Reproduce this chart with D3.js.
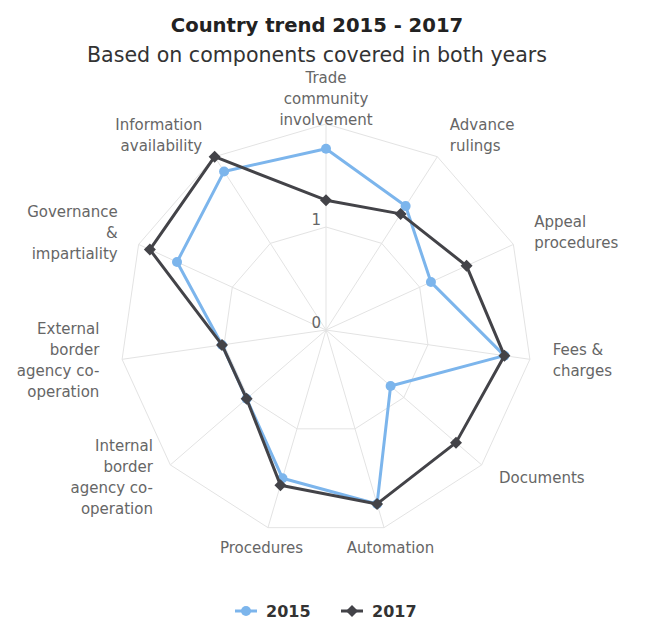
<!DOCTYPE html>
<html>
<head>
<meta charset="utf-8">
<script src="https://cdn.jsdelivr.net/npm/d3@7"></script>
<style>
  html, body { margin: 0; padding: 0; background: #ffffff; }
  svg { display: block; }
  text { font-family: "DejaVu Sans", "Open Sans", sans-serif; }
</style>
</head>
<body>
<svg id="chart" width="648" height="633"></svg>
<script>
// ---- data ----
const chartTitle = "Country trend 2015 - 2017";
const chartSubtitle = "Based on components covered in both years";
const categories = [
  "Trade|community|involvement",
  "Advance|rulings",
  "Appeal|procedures",
  "Fees &|charges",
  "Documents",
  "Automation",
  "Procedures",
  "Internal|border|agency co-|operation",
  "External|border|agency co-|operation",
  "Governance|&|impartiality",
  "Information|availability"
];
const seriesNames = ["2015", "2017"];
const values2015 = [1.76, 1.43, 1.12, 1.75, 0.83, 1.76, 1.50, 1.02, 1.02, 1.59, 1.83];
const values2017 = [1.26, 1.34, 1.50, 1.75, 1.67, 1.76, 1.57, 1.02, 1.02, 1.88, 2.00];
const radialTicks = [0, 1, 2];
const radialTickLabels = ["0", "1"];

// ---- layout ----
const W = 648, H = 633;
const cx = 326, cy = 330, R = 206;
const svg = d3.select("#chart");

const rScale = d3.scaleLinear().domain([0, 2]).range([0, R]);
const aScale = d3.scaleLinear().domain([0, categories.length]).range([0, 2 * Math.PI]);
const pt = (i, v) => {
  const a = aScale(i), r = rScale(v);
  return [cx + r * Math.sin(a), cy - r * Math.cos(a)];
};

const g = svg.append("g");

// grid polygons
radialTicks.filter(t => t > 0).forEach(t => {
  g.append("path")
    .attr("d", d3.line()(categories.map((c, i) => pt(i, t))) + "Z")
    .attr("fill", "none").attr("stroke", "#e3e3e3").attr("stroke-width", 1);
});
// spokes
categories.forEach((c, i) => {
  const [x, y] = pt(i, 2);
  g.append("line").attr("x1", cx).attr("y1", cy).attr("x2", x).attr("y2", y)
    .attr("stroke", "#e3e3e3").attr("stroke-width", 1);
});

// radial tick labels
radialTickLabels.forEach((lab, k) => {
  const t = radialTicks[k];
  g.append("text").attr("x", cx - 5).attr("y", cy - rScale(t) - 2)
    .attr("text-anchor", "end").attr("fill", "#666").attr("font-size", 15)
    .text(lab);
});

// category labels
const labelR = R + 23, lineH = 21;
categories.forEach((c, i) => {
  const a = aScale(i);
  const x = cx + labelR * Math.sin(a), y = cy - labelR * Math.cos(a);
  const s = Math.sin(a);
  const anchor = Math.abs(s) < 0.3 ? "middle" : (s > 0 ? "start" : "end");
  const lines = c.split("|");
  const t = g.append("text").attr("text-anchor", anchor).attr("fill", "#666").attr("font-size", 15);
  const y0 = y - (lines.length - 1) * lineH / 2 + 3;
  lines.forEach((ln, j) => {
    t.append("tspan").attr("x", x).attr("y", y0 + j * lineH).text(ln);
  });
});

// series
const colors = ["#7cb5ec", "#434348"];
const allSeries = [values2015, values2017];
const lineGen = d3.line().curve(d3.curveLinearClosed);
allSeries.forEach((vals, s) => {
  const pts = vals.map((v, i) => pt(i, v));
  g.append("path").attr("d", lineGen(pts)).attr("fill", "none")
    .attr("stroke", colors[s]).attr("stroke-width", 3).attr("stroke-linejoin", "round");
  pts.forEach(p => {
    if (s === 0) {
      g.append("circle").attr("cx", p[0]).attr("cy", p[1]).attr("r", 5).attr("fill", colors[s]);
    } else {
      g.append("path").attr("transform", `translate(${p[0]},${p[1]})`)
        .attr("d", "M0,-6L6,0L0,6L-6,0Z").attr("fill", colors[s]);
    }
  });
});

// title
svg.append("text").attr("x", 317).attr("y", 32).attr("text-anchor", "middle")
  .attr("font-size", 19.6).attr("font-weight", "bold").attr("fill", "#222").text(chartTitle);
svg.append("text").attr("x", 317).attr("y", 62).attr("text-anchor", "middle")
  .attr("font-size", 20.6).attr("fill", "#333").text(chartSubtitle);

// legend
const legendX = [235, 341];
seriesNames.forEach((name, s) => {
  const lx = legendX[s], ly = 611;
  svg.append("line").attr("x1", lx).attr("x2", lx + 22).attr("y1", ly).attr("y2", ly)
    .attr("stroke", colors[s]).attr("stroke-width", 3);
  if (s === 0) {
    svg.append("circle").attr("cx", lx + 11).attr("cy", ly).attr("r", 5).attr("fill", colors[s]);
  } else {
    svg.append("path").attr("transform", `translate(${lx + 11},${ly})`)
      .attr("d", "M0,-6L6,0L0,6L-6,0Z").attr("fill", colors[s]);
  }
  svg.append("text").attr("x", lx + 31).attr("y", ly + 6).attr("font-size", 16)
    .attr("font-weight", "bold").attr("fill", "#333").text(name);
});
</script>
</body>
</html>
